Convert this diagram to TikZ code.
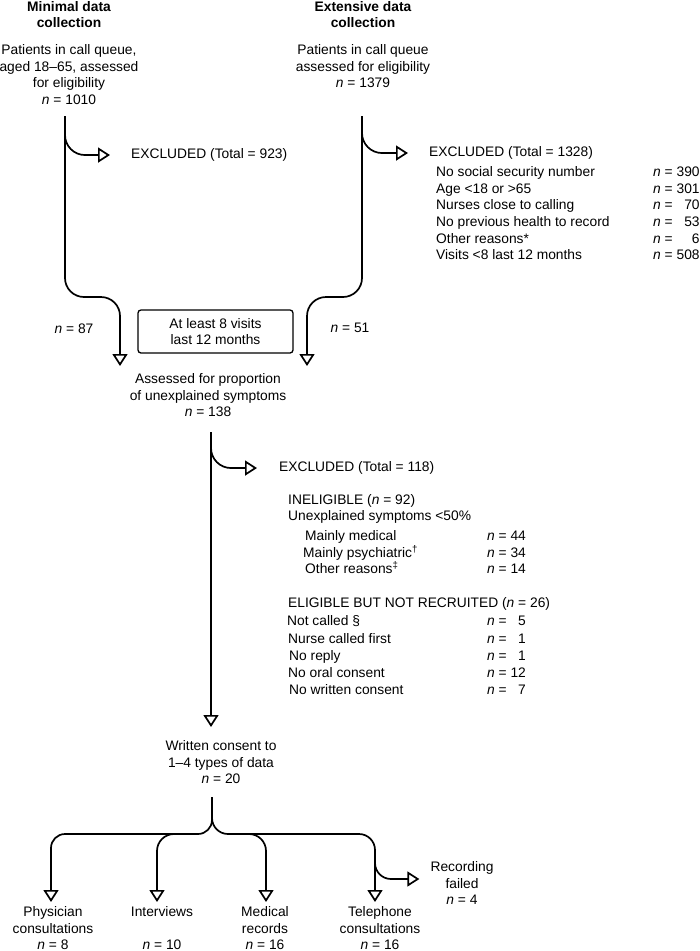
\documentclass[tikz,border=0pt]{standalone}
\usepackage{fontspec}
\setmainfont{Liberation Sans}
\usetikzlibrary{arrows.meta}
\newcommand\myfs{\fontsize{13.8}{16.5}\selectfont}
\newcommand\nn{\textit{n}}
\begin{document}
\begin{tikzpicture}[x=1pt,y=-1pt,
  flow/.style={line width=1.7pt, line join=round},
  flowarrow/.style={flow, -{Triangle[open,length=12pt,width=15pt]}},
  txt/.style={font=\myfs, inner sep=0pt, align=center},
  itm/.style={font=\myfs, inner sep=0pt, anchor=base west},
  boxstyle/.style={draw, line width=1.3pt, rounded corners=3pt, minimum width=155pt, minimum height=43pt}]
\useasboundingbox (0,0) rectangle (700,951);

% headings
\node[txt, font=\myfs\bfseries, anchor=north] (hL) at (69,1) {Minimal data\\collection};
\node[txt, font=\myfs\bfseries, anchor=north] (hR) at (363,1) {Extensive data\\collection};

% top texts
\node[txt, anchor=north] (pL) at (69,44.5) {Patients in call queue,\\aged 18--65, assessed\\for eligibility\\\nn{} = 1010};
\node[txt, anchor=north] (pR) at (363,44.5) {Patients in call queue\\assessed for eligibility\\\nn{} = 1379};

% exclusions top
\node[itm] (exL) at (131,158.6) {EXCLUDED (Total = 923)};
\node[itm] (exR) at (429,156.6) {EXCLUDED (Total = 1328)};

\node[itm] (r1) at (436,176.6) {No social security number};
\node[itm] (r2) at (436,193.2) {Age <18 or >65};
\node[itm] (r3) at (436,209.8) {Nurses close to calling};
\node[itm] (r4) at (436,226.4) {No previous health to record};
\node[itm] (r5) at (436,243.0) {Other reasons*};
\node[itm] (r6) at (436,259.6) {Visits <8 last 12 months};
\node[itm] (rn1) at (653,176.6) {\nn{} = \makebox[1.67em][r]{390}};
\node[itm] (rn2) at (653,193.2) {\nn{} = \makebox[1.67em][r]{301}};
\node[itm] (rn3) at (653,209.8) {\nn{} = \makebox[1.67em][r]{70}};
\node[itm] (rn4) at (653,226.4) {\nn{} = \makebox[1.67em][r]{53}};
\node[itm] (rn5) at (653,243.0) {\nn{} = \makebox[1.67em][r]{6}};
\node[itm] (rn6) at (653,259.6) {\nn{} = \makebox[1.67em][r]{508}};

% merge
\node[txt, boxstyle] (box) at (215.5,331.5) {At least 8 visits\\last 12 months};
\node[txt, anchor=base] (n87) at (74,333.6) {\nn{} = 87};
\node[txt, anchor=base] (n51) at (350,332.6) {\nn{} = 51};
\node[txt, anchor=north] (ass) at (208,373.5) {Assessed for proportion\\of unexplained symptoms\\\nn{} = 138};

% second exclusion
\node[itm] (ex3) at (279,471.6) {EXCLUDED (Total = 118)};
\node[itm] (inel) at (288,504.6) {INELIGIBLE (\nn{} = 92)};
\node[itm] (unexp) at (288,520.6) {Unexplained symptoms <50\%};
\node[itm] (m1) at (305,540.6) {Mainly medical};
\node[itm] (m2) at (303,557.6) {Mainly psychiatric\textsuperscript{†}};
\node[itm] (m3) at (305,573.6) {Other reasons\textsuperscript{‡}};
\node[itm] (mn1) at (487,540.6) {\nn{} = \makebox[1.11em][r]{44}};
\node[itm] (mn2) at (487,557.6) {\nn{} = \makebox[1.11em][r]{34}};
\node[itm] (mn3) at (487,573.6) {\nn{} = \makebox[1.11em][r]{14}};
\node[itm] (elig) at (288,607.6) {ELIGIBLE BUT NOT RECRUITED (\nn{} = 26)};
\node[itm] (e1) at (287,625.6) {Not called §};
\node[itm] (e2) at (288,643.6) {Nurse called first};
\node[itm] (e3) at (289,660.6) {No reply};
\node[itm] (e4) at (288,677.6) {No oral consent};
\node[itm] (e5) at (289,694.6) {No written consent};
\node[itm] (en1) at (487,625.6) {\nn{} = \makebox[1.11em][r]{5}};
\node[itm] (en2) at (487,643.6) {\nn{} = \makebox[1.11em][r]{1}};
\node[itm] (en3) at (487,660.6) {\nn{} = \makebox[1.11em][r]{1}};
\node[itm] (en4) at (487,677.6) {\nn{} = \makebox[1.11em][r]{12}};
\node[itm] (en5) at (487,694.6) {\nn{} = \makebox[1.11em][r]{7}};

\node[txt, anchor=north] (cons) at (221,740.5) {Written consent to\\1--4 types of data\\\nn{} = 20};

% bottom
\node[txt, anchor=north] (phys) at (53,906.5) {Physician\\consultations\\\nn{} = 8};
\node[txt, anchor=north] (intv) at (162,906.5) {Interviews\\[16.5pt]\nn{} = 10};
\node[txt, anchor=north] (med) at (265,906.5) {Medical\\records\\\nn{} = 16};
\node[txt, anchor=north] (tel) at (380,906.5) {Telephone\\consultations\\\nn{} = 16};
\node[txt, anchor=north] (rec) at (462,861.5) {Recording\\failed\\\nn{} = 4};

% coordinates
\coordinate (L0) at (65,116);
\coordinate (L1) at (65,125);
\coordinate (R0) at (362,116);
\coordinate (R1) at (362,125);
\coordinate (Ltip) at (120,366);
\coordinate (Rtip) at (307,366);
\coordinate (M0) at (211,432);
\coordinate (M1) at (211,440);
\coordinate (Mtip) at (211,727);
\coordinate (S0) at (212,797);
\coordinate (Ptip) at (51,902);
\coordinate (Itip) at (157,902);
\coordinate (Dtip) at (266,902);
\coordinate (Ttip) at (375,902);
\coordinate (T1) at (375,858);

% connectors
\draw[flowarrow, rounded corners=20pt] (L1) -- (L1 |- exL.west) -- ([xshift=-21pt]exL.west);
\draw[flowarrow, rounded corners=20pt] (R1) -- (R1 |- exR.west) -- ([xshift=-21pt]exR.west);
\draw[flowarrow, rounded corners=19pt] (L0) -- (65,297) -- (120,297) -- (Ltip);
\draw[flowarrow, rounded corners=19pt] (R0) -- (362,297) -- (307,297) -- (Rtip);
\draw[flowarrow, rounded corners=20pt] (M1) -- (M1 |- ex3.west) -- ([xshift=-22pt]ex3.west);
\draw[flowarrow] (M0) -- (Mtip);

\draw[flowarrow, rounded corners=14pt] (S0) -- (212,834) -- (51,834) -- (Ptip);
\draw[flowarrow, rounded corners=16pt] (S0) -- (212,834) -- (375,834) -- (Ttip);
\draw[flowarrow, rounded corners=17pt] (190,834) -- (157,834) -- (Itip);
\draw[flowarrow, rounded corners=17pt] (235,834) -- (266,834) -- (Dtip);
\draw[flowarrow, rounded corners=16pt] (T1) -- (375,879) -- ([xshift=-11pt]rec.west |- 0,879);
\end{tikzpicture}
\end{document}
